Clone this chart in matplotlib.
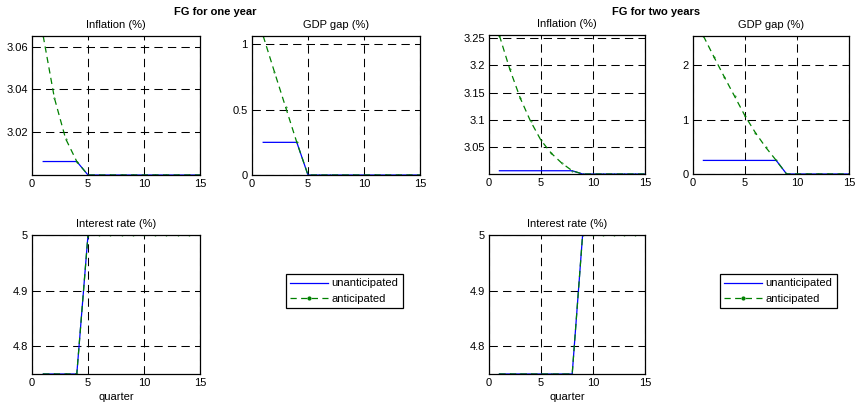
import numpy as np
import matplotlib
matplotlib.use("Agg")
import matplotlib.pyplot as plt
from matplotlib.lines import Line2D

plt.rcParams['font.family'] = ['Liberation Sans', 'DejaVu Sans']
plt.rcParams['font.size'] = 8

quarters = np.arange(1, 16)

# FG for one year
infl1_unant = [3.0063, 3.0063, 3.0063, 3.0063] + [3.0] * 11
infl1_ant = [3.065, 3.036, 3.017, 3.0063] + [3.0] * 11
gap1_unant = [0.25, 0.25, 0.25, 0.25] + [0.0] * 11
gap1_ant = [1.064, 0.79, 0.52, 0.25] + [0.0] * 11
rate1_unant = [4.75] * 4 + [5.0] * 11
rate1_ant = [4.75] * 4 + [5.0] * 11

# FG for two years
infl2_unant = [3.006] * 8 + [3.0] * 7
infl2_ant = [3.255, 3.193, 3.14, 3.097, 3.062, 3.038, 3.02, 3.006] + [3.0] * 7
gap2_unant = [0.25] * 8 + [0.0] * 7
gap2_ant = [2.54, 2.16, 1.79, 1.43, 1.07, 0.76, 0.49, 0.25] + [0.0] * 7
rate2_unant = [4.75] * 8 + [5.0] * 7
rate2_ant = [4.75] * 8 + [5.0] * 7

W, H = 857, 409
fig = plt.figure(figsize=(W / 100, H / 100), dpi=100)

BLUE = '#0000ff'
GREEN = '#008000'
DASH = (0, (5, 3.5))


def make_ax(l, t, r, b):
    return fig.add_axes([l / W, 1 - b / H, (r - l) / W, (b - t) / H])


def panel(ax, unant, ant, ylim, yticks, title=None, xlabel=None):
    ax.plot(quarters, unant, color=BLUE, lw=0.9)
    ax.plot(quarters, ant, color=GREEN, lw=0.9, linestyle=DASH,
            marker='.', markersize=0.8)
    ax.set_xlim(0, 15)
    ax.set_ylim(*ylim)
    ax.set_xticks([0, 5, 10, 15])
    ax.set_yticks(yticks)
    ax.set_yticklabels(['%g' % v for v in yticks])
    ax.grid(True, color='k', lw=0.75, linestyle=(0, (8, 5)))
    ax.tick_params(direction='in', top=True, right=True, length=3,
                   width=0.6, labelsize=8, pad=3)
    for s in ax.spines.values():
        s.set_linewidth(0.9)
    if title:
        ax.set_title(title, fontsize=8, pad=6)
    if xlabel:
        ax.set_xlabel(xlabel, fontsize=8, labelpad=3)


ax1 = make_ax(32, 36, 200, 175)
panel(ax1, infl1_unant, infl1_ant, (3.0, 3.065), [3.02, 3.04, 3.06], 'Inflation (%)')
ax2 = make_ax(252, 36, 420, 175)
panel(ax2, gap1_unant, gap1_ant, (0, 1.064), [0, 0.5, 1], 'GDP gap (%)')
ax3 = make_ax(489, 35, 645, 174)
panel(ax3, infl2_unant, infl2_ant, (3.0, 3.256), [3.05, 3.1, 3.15, 3.2, 3.25], 'Inflation (%)')
ax4 = make_ax(693, 36, 849, 174)
panel(ax4, gap2_unant, gap2_ant, (0, 2.54), [0, 1, 2], 'GDP gap (%)')
ax5 = make_ax(32, 235, 200, 374)
panel(ax5, rate1_unant, rate1_ant, (4.75, 5.0), [4.8, 4.9, 5], 'Interest rate (%)', 'quarter')
ax6 = make_ax(489, 235, 645, 374)
panel(ax6, rate2_unant, rate2_ant, (4.75, 5.0), [4.8, 4.9, 5], 'Interest rate (%)', 'quarter')

fig.text(215 / W, 1 - 12 / H, 'FG for one year', ha='center', va='center',
         fontsize=8, fontweight='bold')
fig.text(656 / W, 1 - 12 / H, 'FG for two years', ha='center', va='center',
         fontsize=8, fontweight='bold')

handles = [Line2D([], [], color=BLUE, lw=0.9),
           Line2D([], [], color=GREEN, lw=0.9, linestyle=DASH,
                  marker='.', markersize=4)]
labels = ['unanticipated', 'anticipated']
for x0, y0 in [(286, 274), (720, 274)]:
    leg = fig.legend(handles, labels, loc='upper left',
                     bbox_to_anchor=(x0 / W, 1 - y0 / H),
                     fancybox=False, framealpha=1, edgecolor='k',
                     fontsize=8, handlelength=3.4, handletextpad=0.3,
                     borderpad=0.4, labelspacing=0.5, borderaxespad=0)
    leg.get_frame().set_linewidth(0.9)

fig.savefig('out.png', dpi=100)
